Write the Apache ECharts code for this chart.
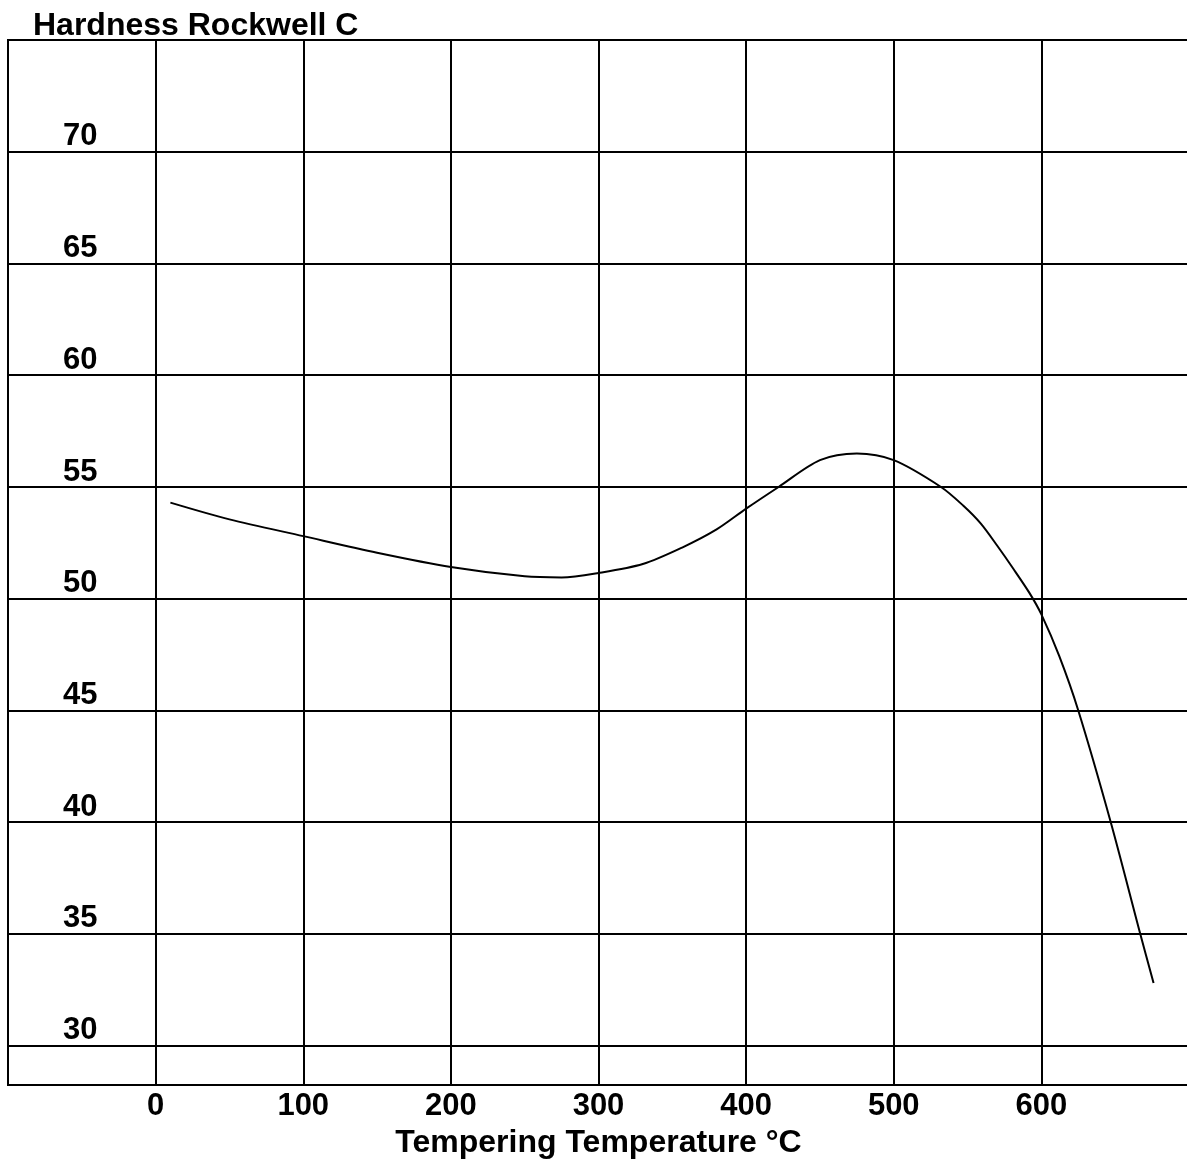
<!DOCTYPE html>
<html>
<head>
<meta charset="utf-8">
<script src="https://cdn.jsdelivr.net/npm/echarts@6/dist/echarts.min.js"></script>
<style>
  html, body { margin: 0; padding: 0; background: #fff; }
  #chart { width: 1187px; height: 1160px; }
</style>
</head>
<body>
<div id="chart"></div>
<script>
// tempering curve
const temps = [10, 50, 100, 150, 200, 250, 275, 300, 330, 357, 380, 400, 422, 450, 475, 500, 532, 547, 559, 570, 581, 592, 600, 612, 625, 647, 667, 676];
const hardness = [54.3, 53.55, 52.8, 52.06, 51.42, 51.0, 50.95, 51.15, 51.55, 52.3, 53.1, 54.03, 55.0, 56.2, 56.5, 56.2, 55.0, 54.17, 53.36, 52.38, 51.34, 50.25, 49.3, 47.45, 45, 40, 35, 32.8];
const yTicks = [30, 35, 40, 45, 50, 55, 60, 65, 70];
const xTicks = [0, 100, 200, 300, 400, 500, 600];

const font = 'Arial, "Liberation Sans", sans-serif';

let myChart = echarts.init(document.getElementById('chart'));

let option = {
  animation: false,
  backgroundColor: '#fff',
  title: {
    text: 'Hardness Rockwell C',
    left: 28,
    top: 5,
    textStyle: { fontFamily: font, fontSize: 32, fontWeight: 'bold', color: '#000' }
  },
  grid: {
    left: 8, top: 40, width: 1181, height: 1045,
    outerBoundsMode: 'none',
    containLabel: false,
    show: true, borderColor: '#000', borderWidth: 2
  },
  xAxis: {
    type: 'value',
    min: -100, max: 700, interval: 100,
    name: 'Tempering Temperature °C',
    nameLocation: 'middle',
    nameGap: 40,
    nameTextStyle: { fontFamily: font, fontSize: 32, fontWeight: 'bold', color: '#000' },
    axisLine: { show: false },
    axisTick: { show: false },
    splitLine: { show: true, lineStyle: { color: '#000', width: 2 } },
    axisLabel: {
      margin: 6,
      fontFamily: font, fontSize: 31, fontWeight: 'bold', color: '#000',
      formatter: v => xTicks.indexOf(v) >= 0 ? String(v) : ''
    }
  },
  yAxis: {
    type: 'value',
    min: 28.24, max: 75,
    axisLine: { show: false },
    axisTick: { show: false, customValues: yTicks },
    splitLine: { show: true, lineStyle: { color: '#000', width: 2 } },
    axisLabel: {
      inside: true,
      customValues: yTicks,
      margin: 55,
      verticalAlign: 'bottom',
      lineHeight: 30,
      fontFamily: font, fontSize: 31, fontWeight: 'bold', color: '#000'
    }
  },
  series: [{
    type: 'line',
    data: temps.map((t, i) => [t, hardness[i]]),
    smooth: 0.3,
    showSymbol: false,
    lineStyle: { color: '#000', width: 2 }
  }]
};

myChart.setOption(option);
</script>
</body>
</html>
